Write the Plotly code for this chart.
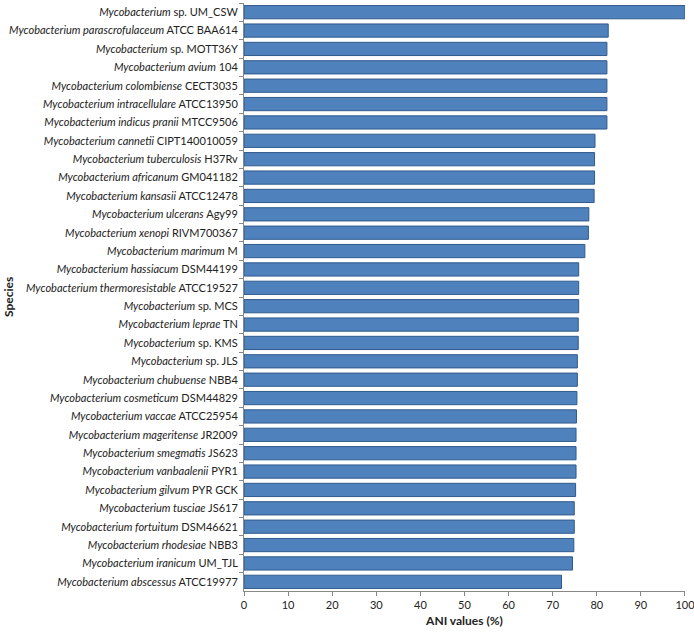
import plotly.graph_objects as go

species = ["sp.", "parascrofulaceum", "sp.", "avium", "colombiense", "intracellulare",
           "indicus pranii", "cannetii", "tuberculosis", "africanum", "kansasii", "ulcerans",
           "xenopi", "marimum", "hassiacum", "thermoresistable", "sp.", "leprae", "sp.", "sp.",
           "chubuense", "cosmeticum", "vaccae", "mageritense", "smegmatis", "vanbaalenii",
           "gilvum", "tusciae", "fortuitum", "rhodesiae", "iranicum", "abscessus"]
strains = ["UM_CSW", "ATCC BAA614", "MOTT36Y", "104", "CECT3035", "ATCC13950",
           "MTCC9506", "CIPT140010059", "H37Rv", "GM041182", "ATCC12478", "Agy99",
           "RIVM700367", "M", "DSM44199", "ATCC19527", "MCS", "TN", "KMS", "JLS",
           "NBB4", "DSM44829", "ATCC25954", "JR2009", "JS623", "PYR1",
           "PYR GCK", "JS617", "DSM46621", "NBB3", "UM_TJL", "ATCC19977"]
ani_values = [100.0, 82.6, 82.3, 82.3, 82.3, 82.3, 82.3, 79.6, 79.5, 79.5, 79.4, 78.2,
              78.1, 77.3, 75.9, 75.9, 75.9, 75.8, 75.8, 75.6, 75.6, 75.5, 75.4, 75.3,
              75.3, 75.3, 75.2, 74.9, 74.9, 74.8, 74.5, 72.0]
x_ticks = [0, 10, 20, 30, 40, 50, 60, 70, 80, 90, 100]

labels = []
for sp, st in zip(species, strains):
    if sp == "sp.":
        labels.append(f"<i>Mycobacterium</i> sp. {st}")
    else:
        labels.append(f"<i>Mycobacterium {sp}</i> {st}")

FONT = "Lato, Carlito, Calibri, sans-serif"

fig = go.Figure(go.Bar(
    x=ani_values, y=labels, orientation="h",
    marker=dict(color="#4F81BD", line=dict(color="#2F5A8C", width=1)),
    width=0.72,
    cliponaxis=False,
))

fig.update_layout(
    width=694, height=632,
    margin=dict(l=244, r=9, t=3, b=41, autoexpand=False),
    paper_bgcolor="white", plot_bgcolor="white",
    showlegend=False,
    font=dict(family=FONT, size=11, color="#222222"),
    xaxis=dict(range=[0, 100.01], tickvals=x_ticks, ticks="outside", ticklen=4,
               tickcolor="#888888", showline=True, linecolor="#888888", linewidth=1,
               showgrid=False, zeroline=False, automargin=False,
               ticklabeloverflow="allow", ticklabelstandoff=0,
               tickfont=dict(family=FONT, size=11, color="#222222"),
               title=dict(text="<b>ANI values (%)</b>", standoff=6,
                          font=dict(family=FONT, size=12, color="#222222"))),
    yaxis=dict(autorange="reversed", showline=True, linecolor="#888888", linewidth=1,
               ticks="outside", ticklen=4, tickcolor="#888888", tickson="boundaries",
               showgrid=False, ticklabelstandoff=3, automargin=False,
               tickfont=dict(family=FONT, size=11, color="#222222")),
    bargap=0.26,
    annotations=[dict(text="<b>Species</b>", xref="paper", yref="paper", x=0, y=0.5,
                      xanchor="center", yanchor="middle",
                      xshift=-236, textangle=-90, showarrow=False,
                      font=dict(family=FONT, size=12, color="#222222"))],
)

fig.write_html("out.html", config={"displayModeBar": False},
               post_script="document.body.style.margin='0';document.body.style.overflow='hidden';")
